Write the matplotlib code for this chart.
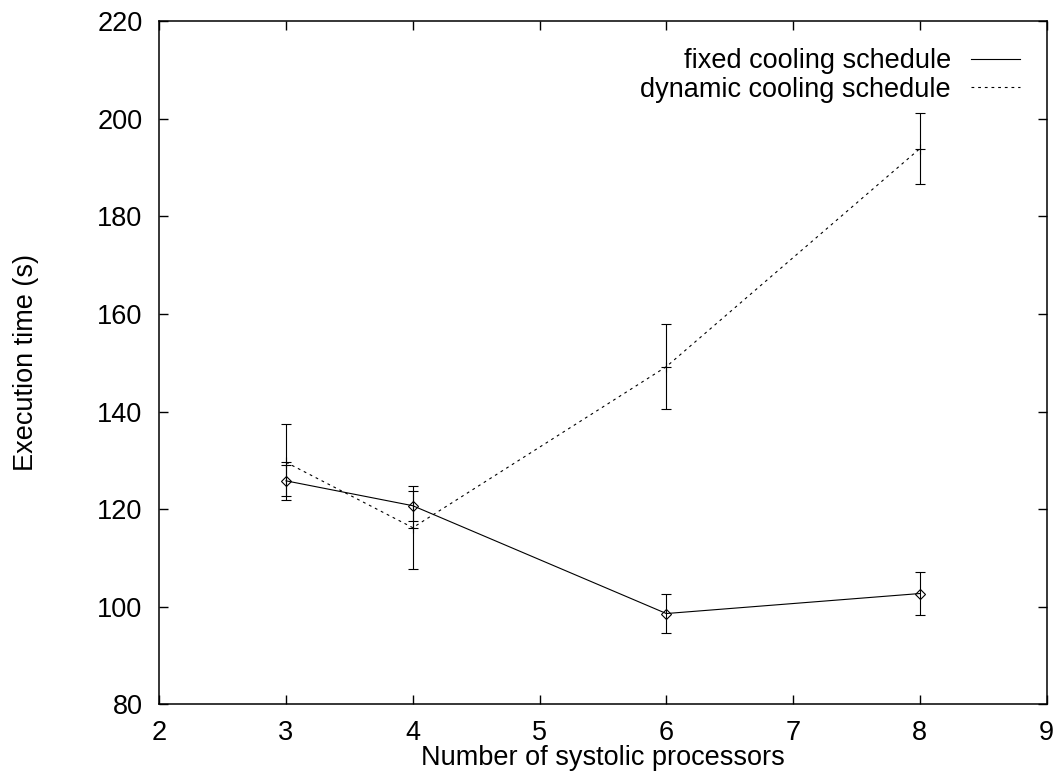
import matplotlib
matplotlib.use("Agg")
import matplotlib.pyplot as plt
from matplotlib.lines import Line2D

# data
processors = [3, 4, 6, 8]
fixed_time = [125.8, 120.7, 98.6, 102.7]
fixed_err = [3.2, 3.1, 4.0, 4.4]
dynamic_time = [129.6, 116.2, 149.2, 193.9]
dynamic_err = [7.8, 8.5, 8.7, 7.3]

xticks = [2, 3, 4, 5, 6, 7, 8, 9]
yticks = [80, 100, 120, 140, 160, 180, 200, 220]

plt.rcParams["font.family"] = ["Liberation Sans", "DejaVu Sans"]
FS = 19.5

fig = plt.figure(figsize=(10.54, 7.73), dpi=100)
ax = fig.add_axes([0.1511, 0.0889, 0.8419, 0.8836])

lw = 0.8
ax.errorbar(processors, fixed_time, yerr=fixed_err, color="black", lw=lw,
            elinewidth=lw, capsize=3.4, capthick=lw, marker="D", ms=4.8,
            mfc="none", mec="black", mew=lw)
ax.errorbar(processors, dynamic_time, yerr=dynamic_err, color="black", lw=lw,
            elinewidth=lw, capsize=3.4, capthick=lw, marker="+", ms=6.8,
            mew=lw, linestyle=(0, (2.5, 3.5)))

ax.set_xlim(2, 9)
ax.set_ylim(80, 220)
ax.set_xticks(xticks)
ax.set_yticks(yticks)
ax.tick_params(direction="in", length=6.5, width=1.0, labelsize=FS,
               top=True, right=True)
ax.tick_params(axis="x", pad=11)
ax.tick_params(axis="y", pad=12)
for s in ax.spines.values():
    s.set_linewidth(1.1)

ax.set_xlabel("Number of systolic processors", fontsize=FS)
ax.set_ylabel("Execution time (s)", fontsize=FS)
ax.xaxis.set_label_coords(0.5, -0.06)
ax.yaxis.set_label_coords(-0.136, 0.5)

# key: lines only, no markers, text on the left
handles = [Line2D([], [], color="black", lw=lw),
           Line2D([], [], color="black", lw=lw, linestyle=(0, (2.5, 3.5)))]
ax.legend(handles, ["fixed cooling schedule", "dynamic cooling schedule"],
          loc="upper right", bbox_to_anchor=(1.0, 1.0), frameon=False,
          fontsize=FS, markerfirst=False, handlelength=1.78,
          handletextpad=0.75, labelspacing=0.08, borderaxespad=0.6)

fig.savefig("out.png", dpi=100)
